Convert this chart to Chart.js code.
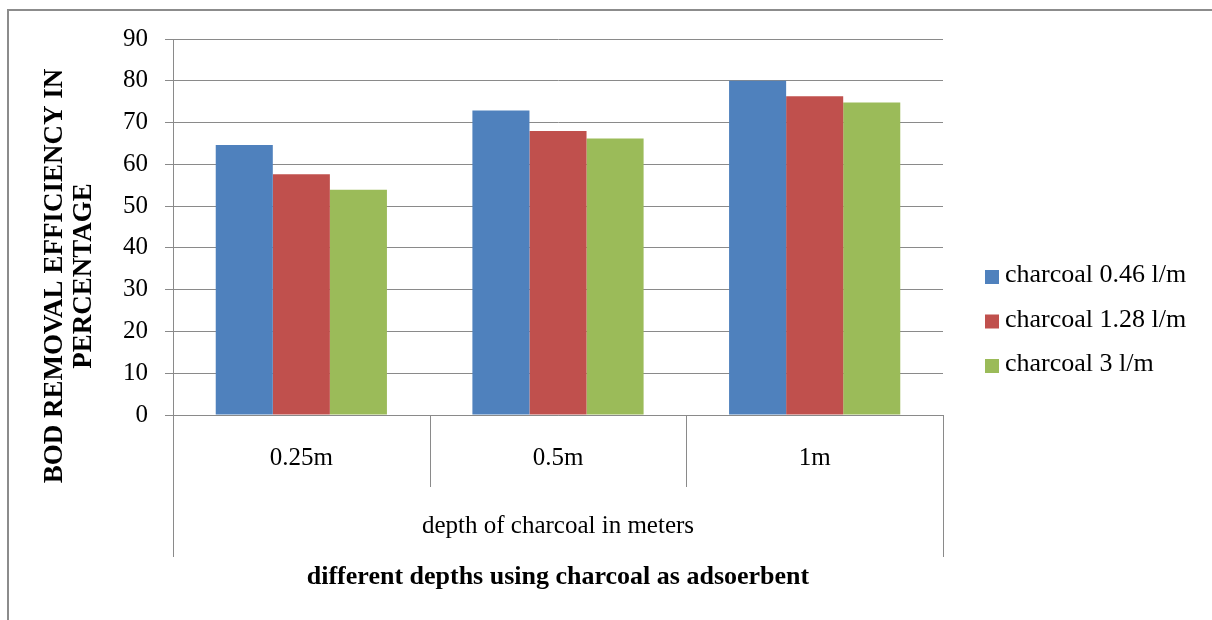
<!DOCTYPE html>
<html>
<head>
<meta charset="utf-8">
<title>BOD removal efficiency</title>
<script src="https://cdn.jsdelivr.net/npm/chart.js@4/dist/chart.umd.min.js"></script>
<style>
    html, body { margin: 0; padding: 0; background: #fff; }
    #wrap { width: 1212px; height: 620px; position: relative; }
</style>
</head>
<body>
<div id="wrap"><canvas id="bod-chart"></canvas></div>
<script>
// values
const categories = ['0.25m', '0.5m', '1m'];
const seriesLabels = ['charcoal 0.46 l/m', 'charcoal 1.28 l/m', 'charcoal 3 l/m'];
const charcoal046 = [64.6, 72.9, 80.0];
const charcoal128 = [57.6, 68.0, 76.3];
const charcoal3 = [53.9, 66.2, 74.8];
const yMin = 0;
const yMax = 90;
const yStep = 10;
const groupLabel = 'depth of charcoal in meters';
const xTitle = 'different depths using charcoal as adsoerbent';
const yTitle = ['BOD REMOVAL EFFICIENCY IN', 'PERCENTAGE'];

const seriesColors = ['#4F81BD', '#C0504D', '#9BBB59'];
const serif = '"Liberation Serif", "Times New Roman", serif';
const lineGray = '#8a8a8a';

document.addEventListener('DOMContentLoaded', () => {
    const ctx = document.getElementById('bod-chart').getContext('2d');

    // extra bits Excel draws: category box below the axis, titles, legend, frame
    const excelExtras = {
        id: 'excelExtras',
        afterDraw(chart) {
            const c = chart.ctx;
            const x = chart.scales.x;
            const area = chart.chartArea;
            c.save();

            // separators of the two-level category axis
            c.strokeStyle = lineGray;
            c.lineWidth = 1;
            for (let i = 0; i <= categories.length; i++) {
                const px = Math.round(x.getPixelForValue(i - 0.5)) + 0.5;
                const outer = i === 0 || i === categories.length;
                c.beginPath();
                c.moveTo(px, area.bottom);
                c.lineTo(px, outer ? 557 : 487);
                c.stroke();
            }

            c.fillStyle = '#000';
            c.textAlign = 'center';
            c.textBaseline = 'middle';
            const mid = (area.left + area.right) / 2;
            c.font = '25px ' + serif;
            c.fillText(groupLabel, mid, 526);
            c.font = 'bold 26px ' + serif;
            c.fillText(xTitle, mid, 577);

            // rotated y title, two lines
            c.save();
            c.translate(0, 276);
            c.rotate(-Math.PI / 2);
            c.font = 'bold 27px ' + serif;
            c.fillText(yTitle[0], 0, 55);
            c.fillText(yTitle[1], 0, 84);
            c.restore();

            // legend
            c.textAlign = 'left';
            c.textBaseline = 'alphabetic';
            c.font = '26px ' + serif;
            chart.data.datasets.forEach((ds, i) => {
                const cy = 277 + i * 44.5;
                c.fillStyle = ds.backgroundColor;
                c.fillRect(985, cy - 7, 14, 14);
                c.fillStyle = '#000';
                c.fillText(ds.label, 1005, cy + 5);
            });

            // chart frame
            c.strokeStyle = '#8c8c8c';
            c.lineWidth = 2;
            c.strokeRect(8, 10, 1212, 620);
            c.restore();
        }
    };

    new Chart(ctx, {
        type: 'bar',
        data: {
            labels: categories,
            datasets: [
                { label: seriesLabels[0], data: charcoal046, backgroundColor: seriesColors[0] },
                { label: seriesLabels[1], data: charcoal128, backgroundColor: seriesColors[1] },
                { label: seriesLabels[2], data: charcoal3, backgroundColor: seriesColors[2] }
            ]
        },
        options: {
            responsive: true,
            maintainAspectRatio: false,
            animation: false,
            devicePixelRatio: 1,
            layout: {
                padding: { left: 0, top: 39, right: 269, bottom: 0 }
            },
            datasets: {
                bar: { categoryPercentage: 0.667, barPercentage: 1.0, borderWidth: 0 }
            },
            plugins: {
                legend: { display: false },
                tooltip: { enabled: false }
            },
            scales: {
                x: {
                    offset: true,
                    grid: { display: false, drawTicks: false },
                    border: { display: true, color: lineGray, width: 1 },
                    ticks: {
                        color: '#000',
                        padding: 28,
                        maxRotation: 0,
                        font: { family: serif, size: 25 }
                    },
                    afterFit(scale) {
                        scale.height = 205;
                        scale.paddingLeft = 0;
                        scale.paddingRight = 0;
                    }
                },
                y: {
                    min: yMin,
                    max: yMax,
                    ticks: {
                        stepSize: yStep,
                        color: '#000',
                        padding: 17,
                        font: { family: serif, size: 25 }
                    },
                    grid: { color: lineGray, lineWidth: 1, tickLength: 8 },
                    border: { display: true, color: lineGray, width: 1 },
                    afterFit(scale) {
                        scale.width = 173;
                        scale.paddingTop = 0;
                        scale.paddingBottom = 0;
                    }
                }
            }
        },
        plugins: [excelExtras]
    });
});
</script>
</body>
</html>
